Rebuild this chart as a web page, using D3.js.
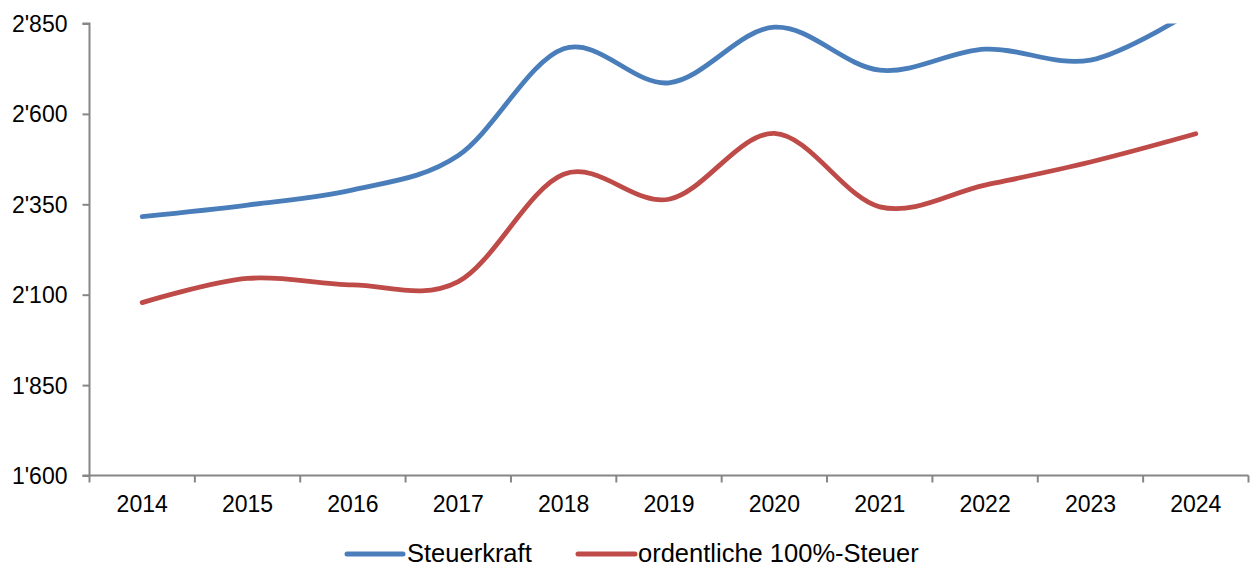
<!DOCTYPE html>
<html><head><meta charset="utf-8">
<script src="https://cdn.jsdelivr.net/npm/d3@7"></script>
<style>body{margin:0;background:#fff;}svg{display:block;font-family:"Liberation Sans",Arial,sans-serif;}</style>
</head><body>
<svg id="c" width="1252" height="567"></svg>
<script>
const years = ["2014","2015","2016","2017","2018","2019","2020","2021","2022","2023","2024"];
const steuerkraft = [2316, 2348, 2390, 2485, 2780, 2686, 2840, 2721, 2779, 2749, 2890];
const ordentliche = [2078, 2145, 2127, 2136, 2433, 2364, 2546, 2343, 2403, 2467, 2545];
const yTicks = [1600, 1850, 2100, 2350, 2600, 2850];
const seriesNames = ["Steuerkraft", "ordentliche 100%-Steuer"];
const seriesColors = ["#4A7EBB", "#BE4B48"];

(function(){
const svg = d3.select("#c");
const pL = 89.5, pR = 1248.5, pT = 23.5, pB = 475.5;
const x = d3.scaleBand().domain(years).range([pL, pR]);
const y = d3.scaleLinear().domain([1600, 2850]).range([pB, pT]);
const fmt = v => d3.format(",")(v).replace(/,/g, "'");

svg.append("defs").append("clipPath").attr("id","pc").append("rect")
  .attr("x", pL).attr("y", pT).attr("width", pR-pL+5).attr("height", pB-pT);

// Y axis
const ya = svg.append("g").attr("transform", `translate(${pL},0)`)
  .call(d3.axisLeft(y).tickValues(yTicks).tickFormat(fmt).tickSize(7).tickPadding(15));
ya.select(".domain").attr("stroke","#868686").attr("stroke-width",2).attr("d", `M-7,${pB}H0V${pT}H-7`);
ya.selectAll(".tick line").attr("stroke","#868686").attr("stroke-width",2);
ya.selectAll(".tick text").attr("font-size","23px").attr("fill","#000").attr("font-family","Liberation Sans, Arial, sans-serif").attr("dy","0.35em");

// X axis
const xa = svg.append("g").attr("transform", `translate(0,${pB})`)
  .call(d3.axisBottom(x).tickSize(0).tickPadding(20));
xa.select(".domain").attr("stroke","#868686").attr("stroke-width",2).attr("d", `M${pL},0H${pR}`);
xa.selectAll(".tick text").attr("font-size","23px").attr("fill","#000").attr("font-family","Liberation Sans, Arial, sans-serif");
const bounds = years.map(d => x(d)).concat([pR]);
xa.selectAll(".bt").data(bounds).enter().append("line")
  .attr("x1", d => d).attr("x2", d => d).attr("y1", 0).attr("y2", 7)
  .attr("stroke","#868686").attr("stroke-width",2);

// Lines
const line = d3.line()
  .x((d,i) => x(years[i]) + x.bandwidth()/2)
  .y(d => y(d))
  .curve(d3.curveCardinal.tension(0));
const g = svg.append("g").attr("clip-path","url(#pc)");
[steuerkraft, ordentliche].forEach((s, i) => {
  g.append("path").attr("d", line(s)).attr("fill","none")
   .attr("stroke", seriesColors[i]).attr("stroke-width", 4.8).attr("stroke-linecap","round");
});

// Legend
const leg = [
  {lx1: 347, lx2: 403, tx: 407},
  {lx1: 578, lx2: 635, tx: 638}
];
leg.forEach((p, i) => {
  svg.append("line").attr("x1", p.lx1).attr("x2", p.lx2).attr("y1", 554).attr("y2", 554)
    .attr("stroke", seriesColors[i]).attr("stroke-width", 5).attr("stroke-linecap","round");
  svg.append("text").attr("x", p.tx).attr("y", 561.5).attr("font-size","25.5px").attr("fill","#000")
    .text(seriesNames[i]);
});
})();
</script>
</body></html>
